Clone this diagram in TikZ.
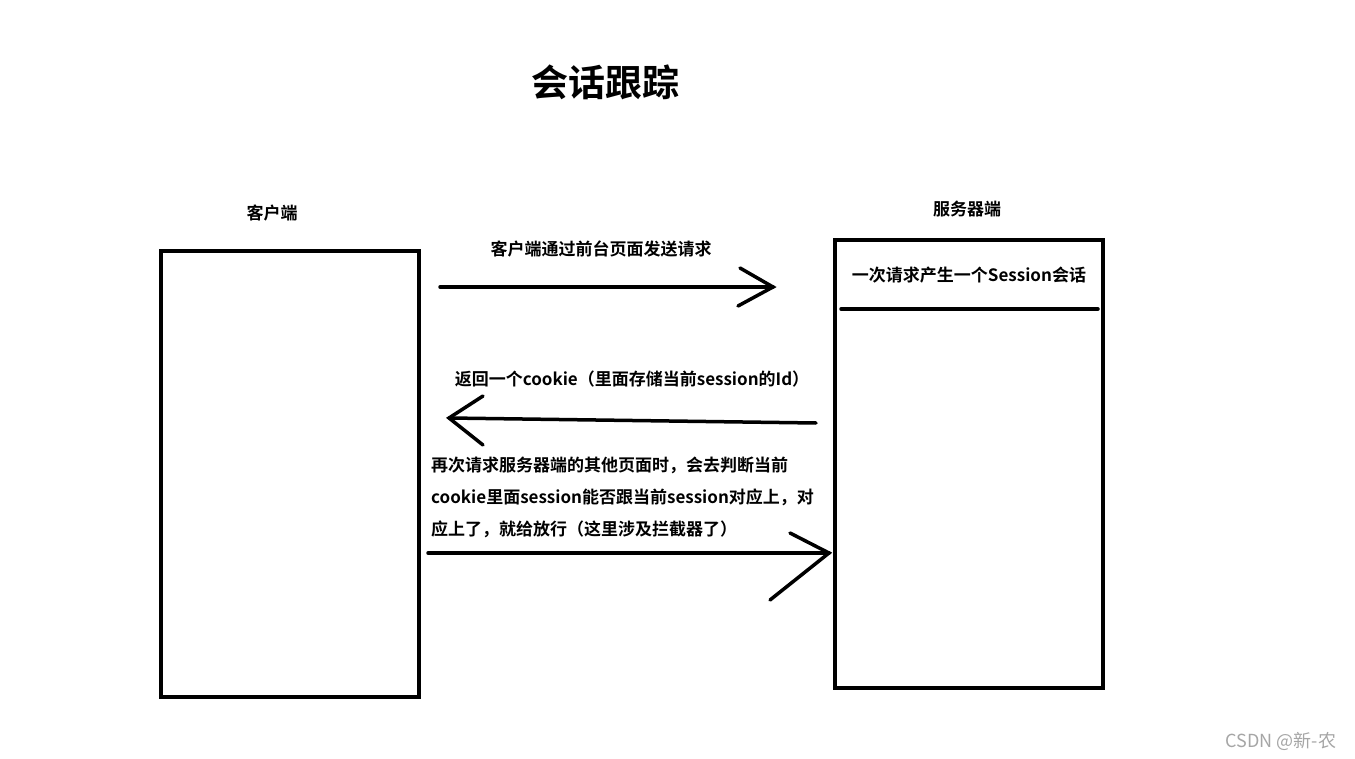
\documentclass[tikz,border=0pt]{standalone}
\usepackage{fontspec}
\setmainfont{Noto Sans CJK SC}[BoldFont={* Bold}]
\newfontfamily\cjkb{Noto Sans CJK SC Bold}
\begin{document}
\begin{tikzpicture}[x=1pt,y=-1pt,
  box/.style={draw,line width=4pt},
  ln/.style={line width=3.5pt,line cap=round},
  lbl/.style={font=\cjkb\fontsize{17}{20}\selectfont,inner sep=0pt}]
\useasboundingbox[fill=white] (0,0) rectangle (1355,759);
\draw[box] (161,251) rectangle (419,697);
\draw[box] (835,240) rectangle (1103,688);
\draw[ln] (841,309) -- (1098,309);
\coordinate (a1s) at (440,287); \coordinate (a1e) at (773,287);
\draw[ln] (a1s) -- (a1e);
\draw[ln] (740,268) -- (a1e) -- (738,306);
\coordinate (a2s) at (816,423); \coordinate (a2e) at (449,418);
\draw[ln] (a2s) -- (a2e);
\draw[ln] (483,396) -- (a2e) -- (483,445);
\coordinate (a3s) at (428,553); \coordinate (a3e) at (829,553);
\draw[ln] (a3s) -- (a3e);
\draw[ln] (790,533) -- (a3e) -- (770,600);
\node[lbl,font=\cjkb\fontsize{37}{40}\selectfont] (title) at (605,82) {会话跟踪};
\node[lbl] (c) at (272,213) {客户端};
\node[lbl] (s) at (967,209) {服务器端};
\node[lbl] (t1) at (601,249) {客户端通过前台页面发送请求};
\node[lbl] (t2) at (969,275) {一次请求产生一个Session会话};
\node[lbl] (t3) at (632,379) {返回一个cookie（里面存储当前session的Id）};
\node[lbl,anchor=north west,align=left,font=\cjkb\fontsize{17}{32}\selectfont] (t4) at (431,457)
 {再次请求服务器端的其他页面时，会去判断当前\\cookie里面session能否跟当前session对应上，对\\应上了，就给放行（这里涉及拦截器了）};
\node[inner sep=0pt,text=gray!70,font=\fontsize{18}{20}\selectfont] (wm) at (1281,741) {CSDN @新-农};
\end{tikzpicture}
\end{document}
